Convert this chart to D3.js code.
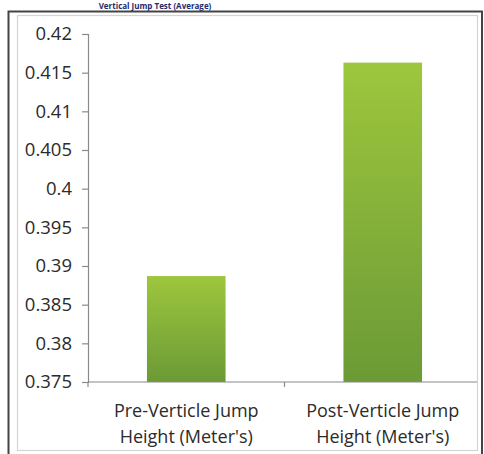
<!DOCTYPE html>
<html>
<head>
<meta charset="utf-8">
<script src="https://cdn.jsdelivr.net/npm/d3@7"></script>
<style>
  html, body { margin: 0; padding: 0; background: #fff; }
  svg { display: block; }
</style>
</head>
<body>
<svg id="chart" width="484" height="454"></svg>
<script>
// Vertical jump heights, before and after training
const categories = [
  ["Pre-Verticle Jump", "Height (Meter's)"],
  ["Post-Verticle Jump", "Height (Meter's)"]
];
const values = [0.3887, 0.4163];
const tickValues = [0.375, 0.38, 0.385, 0.39, 0.395, 0.4, 0.405, 0.41, 0.415, 0.42];
const titleText = "Vertical Jump Test (Average)";

const svg = d3.select("#chart");
const font = "'Open Sans', 'Noto Sans', sans-serif";

// Title along the top edge
svg.append("text")
  .attr("x", 155).attr("y", 9)
  .attr("text-anchor", "middle")
  .attr("font-family", font)
  .attr("font-weight", "bold")
  .attr("font-size", 8)
  .attr("fill", "#1f2a6b")
  .text(titleText);

// Outer frame
svg.append("rect")
  .attr("x", 8.5).attr("y", 11.5).attr("width", 473.5).attr("height", 460)
  .attr("fill", "#fff").attr("stroke", "#444").attr("stroke-width", 2);

// Chart area border
svg.append("rect")
  .attr("x", 17.5).attr("y", 15.5).attr("width", 460).attr("height", 435)
  .attr("fill", "#fff").attr("stroke", "#d4d4d4").attr("stroke-width", 1.2);

const plot = { left: 88, right: 477, top: 34, bottom: 382 };

const x = d3.scaleBand()
  .domain(d3.range(categories.length))
  .range([plot.left, 481])
  .paddingInner(0.6)
  .paddingOuter(0.3);

const y = d3.scaleLinear()
  .domain([0.375, 0.42])
  .range([plot.bottom, plot.top]);

// Bar gradient
const defs = svg.append("defs");
const grad = defs.append("linearGradient")
  .attr("id", "barGrad")
  .attr("x1", 0).attr("y1", 0).attr("x2", 0).attr("y2", 1);
grad.append("stop").attr("offset", "0%").attr("stop-color", "#9dc73d");
grad.append("stop").attr("offset", "100%").attr("stop-color", "#6b9a36");

svg.append("g")
  .selectAll("rect")
  .data(values)
  .join("rect")
  .attr("x", (d, i) => x(i))
  .attr("width", x.bandwidth())
  .attr("y", d => y(d))
  .attr("height", d => y(0.375) - y(d))
  .attr("fill", "url(#barGrad)");

// Y axis
const yAxis = svg.append("g")
  .attr("transform", `translate(${plot.left},0)`)
  .call(d3.axisLeft(y).tickValues(tickValues).tickSize(6).tickPadding(10)
    .tickFormat(d => String(+d.toFixed(3))));
yAxis.select(".domain").attr("stroke", "#8a8a8a").attr("stroke-width", 1.2);
yAxis.selectAll(".tick line").attr("stroke", "#8a8a8a").attr("stroke-width", 1.2);
yAxis.selectAll(".tick text")
  .attr("font-family", font)
  .attr("font-size", 18.5)
  .attr("fill", "#2b2b2b");

// X axis
const xMid = (x(0) + x.bandwidth() + x(1)) / 2;
svg.append("line")
  .attr("x1", plot.left).attr("x2", plot.right)
  .attr("y1", plot.bottom).attr("y2", plot.bottom)
  .attr("stroke", "#8a8a8a").attr("stroke-width", 1.2);
[plot.left, xMid].forEach(px => {
  svg.append("line")
    .attr("x1", px).attr("x2", px)
    .attr("y1", plot.bottom).attr("y2", plot.bottom + 5)
    .attr("stroke", "#8a8a8a").attr("stroke-width", 1.2);
});

// Category labels
const labels = svg.append("g");
categories.forEach((lines, i) => {
  const cx = x(i) + x.bandwidth() / 2;
  const t = labels.append("text")
    .attr("text-anchor", "middle")
    .attr("font-family", font)
    .attr("font-size", 18)
    .attr("fill", "#2b2b2b");
  lines.forEach((ln, k) => {
    t.append("tspan").attr("x", cx).attr("y", 417 + k * 26).text(ln);
  });
});
</script>
</body>
</html>
